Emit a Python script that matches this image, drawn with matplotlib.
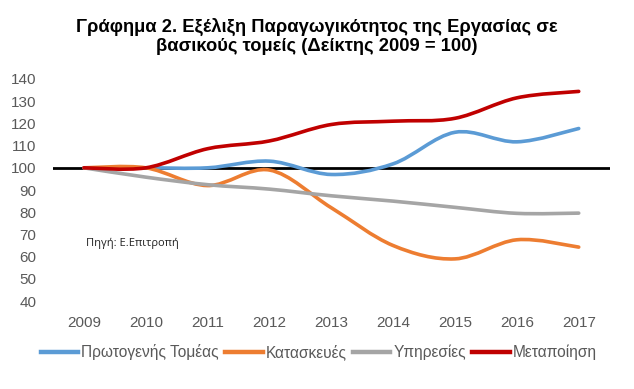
import matplotlib
matplotlib.use("Agg")
import matplotlib.pyplot as plt
from matplotlib.path import Path
from matplotlib.patches import PathPatch
from matplotlib.lines import Line2D

plt.rcParams['font.family'] = ['Liberation Sans', 'DejaVu Sans']

years = ['2009', '2010', '2011', '2012', '2013', '2014', '2015', '2016', '2017']

primary = [100, 100, 100, 103, 97, 101.8, 116, 111.7, 117.7]
construction = [100, 100, 92, 99, 82, 65, 59, 67.6, 64.3]
services = [100, 95.8, 92.4, 90.4, 87.4, 85, 82.2, 79.5, 79.6]
manufacturing = [100, 100, 108.6, 112.1, 119.5, 121, 122.3, 131.5, 134.4]

names = ['Πρωτογενής Τομέας', 'Κατασκευές', 'Υπηρεσίες', 'Μεταποίηση']
colors = ['#5B9BD5', '#ED7D31', '#A5A5A5', '#C00000']


def smooth_path(xs, ys):
    # bezier segments like Excel's smoothed line
    pts = list(zip(xs, ys))
    n = len(pts)
    verts = [pts[0]]
    codes = [Path.MOVETO]
    for i in range(n - 1):
        p0 = pts[i - 1] if i > 0 else pts[i]
        p1 = pts[i]
        p2 = pts[i + 1]
        p3 = pts[i + 2] if i + 2 < n else pts[i + 1]
        c1 = (p1[0] + (p2[0] - p0[0]) / 6, p1[1] + (p2[1] - p0[1]) / 6)
        c2 = (p2[0] - (p3[0] - p1[0]) / 6, p2[1] - (p3[1] - p1[1]) / 6)
        verts += [c1, c2, p2]
        codes += [Path.CURVE4] * 3
    return Path(verts, codes)


fig = plt.figure(figsize=(6.34, 3.89), dpi=100)
ax = fig.add_axes([0.0836, 0.226, 0.878, 0.571])

ax.axhline(100, color='black', lw=2, zorder=1)

x = list(range(len(years)))
for vals, c in zip([primary, construction, services, manufacturing], colors):
    ax.add_patch(PathPatch(smooth_path(x, vals), fill=False, edgecolor=c,
                           lw=2.6, capstyle='round', zorder=2))

ax.set_xlim(-0.5, len(years) - 0.5)
ax.set_ylim(40, 140)
ax.set_yticks(range(40, 141, 10))
ax.set_xticks(x)
ax.set_xticklabels(years)
ax.tick_params(length=0, labelsize=11, labelcolor='#595959')
ax.tick_params(axis='x', pad=11)
ax.tick_params(axis='y', pad=12)
for s in ax.spines.values():
    s.set_visible(False)

ax.text(0.06, 0.26, 'Πηγή: Ε.Επιτροπή', transform=ax.transAxes,
        fontsize=8, family=['Open Sans', 'DejaVu Sans'], color='#222222', va='center')

fig.text(0.5, 0.906, 'Γράφημα 2. Εξέλιξη Παραγωγικότητος της Εργασίας σε\n'
         'βασικούς τομείς (Δείκτης 2009 = 100)',
         ha='center', va='center', fontsize=13.2, fontweight='bold', linespacing=1.15)

handles = [Line2D([], [], color=c, lw=3.2) for c in colors]
fig.legend(handles, names, loc='center', bbox_to_anchor=(0.503, 0.095), ncol=4,
           frameon=False, fontsize=11.2, labelcolor='#595959', handlelength=2.4,
           handletextpad=0.2, columnspacing=0.4)

fig.savefig('out.png', dpi=100)
